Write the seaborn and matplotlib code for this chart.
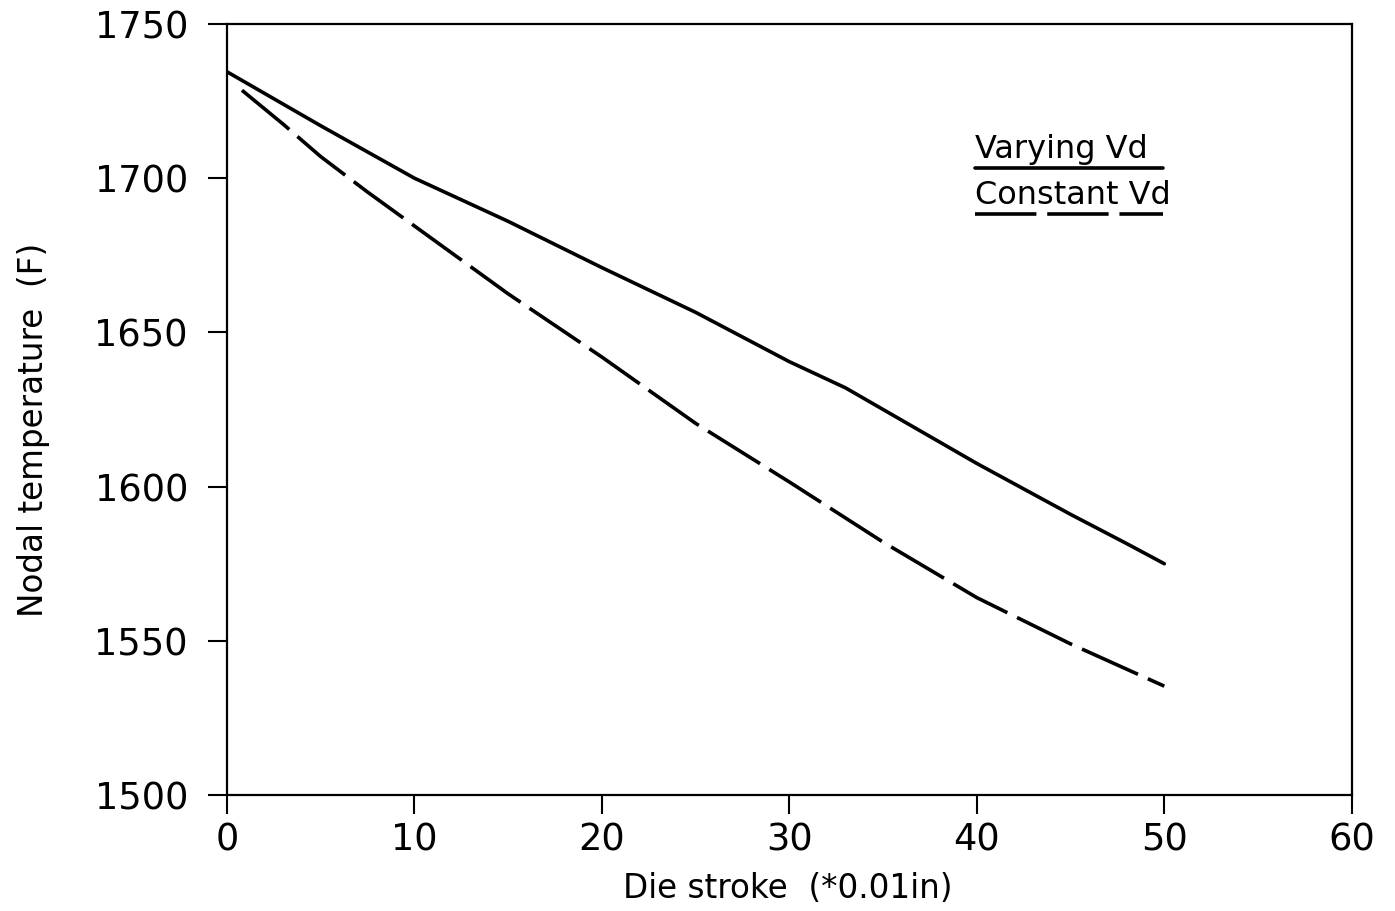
import matplotlib
matplotlib.use("Agg")
import matplotlib.pyplot as plt
import seaborn as sns
import pandas as pd
from matplotlib.lines import Line2D

# Data
x_varying = [0, 5, 10, 15, 20, 25, 30, 33, 35, 40, 45, 48, 50]
t_varying = [1734.5, 1717, 1700, 1686, 1671, 1656.5, 1640.5, 1632, 1625, 1607.5, 1591, 1581.5, 1575]
x_constant = [0.8, 3, 5, 7.5, 10, 15, 20, 25, 30, 35, 40, 45, 50]
t_constant = [1728.5, 1717.5, 1707, 1695.5, 1684.5, 1662.5, 1642, 1620.5, 1601.5, 1582, 1564, 1549, 1535.3]
series_names = ["Varying Vd", "Constant Vd"]
x_ticks = [0, 10, 20, 30, 40, 50, 60]
y_ticks = [1500, 1550, 1600, 1650, 1700, 1750]

df = pd.concat([
    pd.DataFrame({"x": x_varying, "T": t_varying, "series": series_names[0]}),
    pd.DataFrame({"x": x_constant, "T": t_constant, "series": series_names[1]}),
])

sns.set_style("ticks")
plt.rcParams["font.family"] = ["DejaVu Sans"]
plt.rcParams["text.color"] = "black"
plt.rcParams["axes.labelcolor"] = "black"

fig = plt.figure(figsize=(13.95, 9.11), dpi=100)
ax = fig.add_axes([0.1627, 0.1273, 0.8063, 0.8464])

lw = 2.6
dash = (17, 3)
sns.lineplot(data=df, x="x", y="T", style="series", style_order=series_names,
             dashes={series_names[0]: "", series_names[1]: dash},
             color="black", linewidth=lw, legend=False, ax=ax, estimator=None, sort=False)

ax.set_xlim(0, 60)
ax.set_ylim(1500, 1750)
ax.set_xticks(x_ticks)
ax.set_yticks(y_ticks)
ax.tick_params(direction="out", length=14, width=1.5, labelsize=26.5, colors="black")
ax.tick_params(axis="y", pad=14)
ax.tick_params(axis="x", pad=5)
for s in ax.spines.values():
    s.set_visible(True)
    s.set_linewidth(1.6)
    s.set_color("black")

ax.set_xlabel("Die stroke  (*0.01in)", fontsize=23.5)
ax.set_ylabel("Nodal temperature  (F)", fontsize=23.5)
ax.xaxis.set_label_coords(0.499, -0.100)
ax.yaxis.set_label_coords(-0.157, 0.474)

# Legend: text with underlined line samples
fx = lambda px: px / 1395
fy = lambda py: 1 - py / 911
fig.text(fx(975), fy(149), series_names[0], fontsize=23, ha="left", va="center")
fig.add_artist(Line2D([fx(975), fx(1163)], [fy(168), fy(168)], color="black",
                      linewidth=lw, transform=fig.transFigure))
fig.text(fx(975), fy(195), series_names[1], fontsize=23, ha="left", va="center")
fig.add_artist(Line2D([fx(975), fx(1163)], [fy(214), fy(214)], color="black",
                      linewidth=lw, dashes=dash, transform=fig.transFigure))

fig.savefig("out.png", dpi=100)
